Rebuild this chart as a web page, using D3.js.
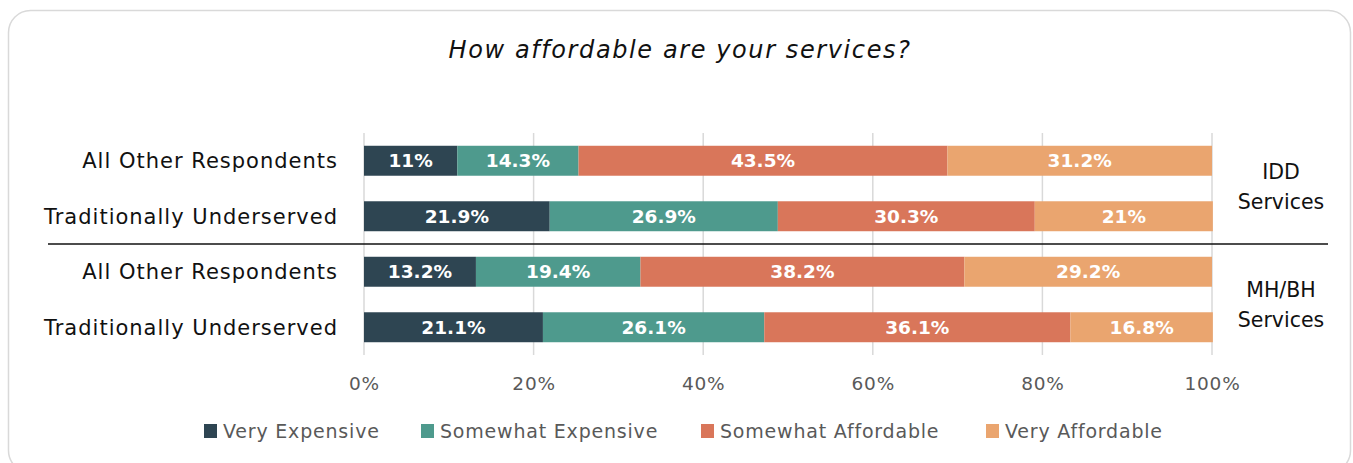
<!DOCTYPE html>
<html>
<head>
<meta charset="utf-8">
<script src="https://cdn.jsdelivr.net/npm/d3@7"></script>
<style>
  html, body { margin: 0; padding: 0; background: #fff; }
  svg { display: block; }
</style>
</head>
<body>
<svg id="chart" width="1353" height="463"></svg>
<script>
// Survey responses: share of each answer per respondent group
const rowLabels = ["All Other Respondents", "Traditionally Underserved", "All Other Respondents", "Traditionally Underserved"];
const rowIds = ["idd-other", "idd-under", "mh-other", "mh-under"];
const seriesNames = ["Very Expensive", "Somewhat Expensive", "Somewhat Affordable", "Very Affordable"];
const veryExpensive = [11, 21.9, 13.2, 21.1];
const somewhatExpensive = [14.3, 26.9, 19.4, 26.1];
const somewhatAffordable = [43.5, 30.3, 38.2, 36.1];
const veryAffordable = [31.2, 21, 29.2, 16.8];
const groupNames = [["IDD", "Services"], ["MH/BH", "Services"]];
const tickValues = [0, 20, 40, 60, 80, 100];
const colors = ["#2E4552", "#4E9A8D", "#D9765A", "#EAA56F"];

const seriesValues = [veryExpensive, somewhatExpensive, somewhatAffordable, veryAffordable];
const rows = rowIds.map((id, i) => {
  const r = { id };
  seriesNames.forEach((s, k) => { r[s] = seriesValues[k][i]; });
  return r;
});

const svg = d3.select("#chart");
const font = "'DejaVu Sans', 'Open Sans', sans-serif";

// Rounded card frame
svg.append("rect")
  .attr("x", 8.5).attr("y", 10.5)
  .attr("width", 1342).attr("height", 462)
  .attr("rx", 22).attr("ry", 22)
  .attr("fill", "#fff").attr("stroke", "#d9d9d9").attr("stroke-width", 1.5);

// Title
svg.append("text")
  .attr("x", 680).attr("y", 58)
  .attr("text-anchor", "middle")
  .attr("font-family", font).attr("font-style", "italic")
  .attr("font-size", 24).attr("letter-spacing", 1.6).attr("fill", "#111")
  .text("How affordable are your services?");

const x = d3.scaleLinear().domain([0, 100]).range([364, 1212]);
const y = d3.scaleBand().domain(rowIds).range([133, 355]).paddingInner(0.46).paddingOuter(0.23);

// Vertical gridlines
svg.append("g")
  .selectAll("line").data(tickValues).join("line")
  .attr("x1", d => x(d)).attr("x2", d => x(d))
  .attr("y1", 133).attr("y2", 355)
  .attr("stroke", "#d9d9d9").attr("stroke-width", 1.5);

// Stacked bars
const stack = d3.stack().keys(seriesNames);
const layers = stack(rows);

const layerG = svg.append("g").selectAll("g").data(layers).join("g")
  .attr("fill", (d, i) => colors[i]);

layerG.selectAll("rect").data(d => d).join("rect")
  .attr("x", d => x(d[0]))
  .attr("width", d => x(d[1]) - x(d[0]))
  .attr("y", d => y(d.data.id))
  .attr("height", y.bandwidth());

// Value labels inside bars
layerG.selectAll("text").data(d => d.map(v => ({ v, key: d.key }))).join("text")
  .attr("x", d => (x(d.v[0]) + x(d.v[1])) / 2)
  .attr("y", d => y(d.v.data.id) + y.bandwidth() / 2)
  .attr("dy", "0.36em")
  .attr("text-anchor", "middle")
  .attr("font-family", font).attr("font-weight", 700)
  .attr("font-size", 18.5).attr("fill", "#fff")
  .text(d => d.v.data[d.key] + "%");

// Row labels
svg.append("g").selectAll("text").data(rowIds).join("text")
  .attr("x", 338)
  .attr("y", d => y(d) + y.bandwidth() / 2)
  .attr("dy", "0.35em")
  .attr("text-anchor", "end")
  .attr("font-family", font).attr("font-size", 21).attr("letter-spacing", 1).attr("fill", "#111")
  .text((d, i) => rowLabels[i]);

// Separator between the two service groups
const sepY = (y(rowIds[1]) + y.bandwidth() + y(rowIds[2])) / 2;
svg.append("line")
  .attr("x1", 48).attr("x2", 1328)
  .attr("y1", sepY).attr("y2", sepY)
  .attr("stroke", "#111").attr("stroke-width", 1.3);

// Group labels on the right
const groupShift = [0, 7];
groupNames.forEach((lines, g) => {
  const cy = (y(rowIds[g * 2]) + y(rowIds[g * 2 + 1]) + y.bandwidth()) / 2 + groupShift[g];
  const t = svg.append("text")
    .attr("x", 1281).attr("y", cy)
    .attr("text-anchor", "middle")
    .attr("font-family", font).attr("font-size", 20.5).attr("fill", "#111");
  lines.forEach((l, j) => {
    t.append("tspan").attr("x", 1281).attr("dy", j === 0 ? "-0.45em" : "1.45em").text(l);
  });
});

// X axis tick labels
const axis = svg.append("g").attr("transform", "translate(0,372)")
  .call(d3.axisBottom(x).tickValues(tickValues).tickFormat(d => d + "%").tickSize(0).tickPadding(0));
axis.select(".domain").remove();
axis.selectAll("text")
  .attr("font-family", font).attr("font-size", 18.5).attr("letter-spacing", 0.8).attr("fill", "#595959")
  .attr("dy", "0.95em");

// Legend
const legendX = [204, 421, 701, 986];
const legend = svg.append("g").selectAll("g").data(seriesNames).join("g")
  .attr("transform", (d, i) => `translate(${legendX[i]},431)`);
legend.append("rect")
  .attr("x", 0).attr("y", -7).attr("width", 13).attr("height", 14)
  .attr("fill", (d, i) => colors[i]);
legend.append("text")
  .attr("x", 19).attr("y", 0).attr("dy", "0.36em")
  .attr("font-family", font).attr("font-size", 19).attr("letter-spacing", 0.8).attr("fill", "#595959")
  .text(d => d);
</script>
</body>
</html>
